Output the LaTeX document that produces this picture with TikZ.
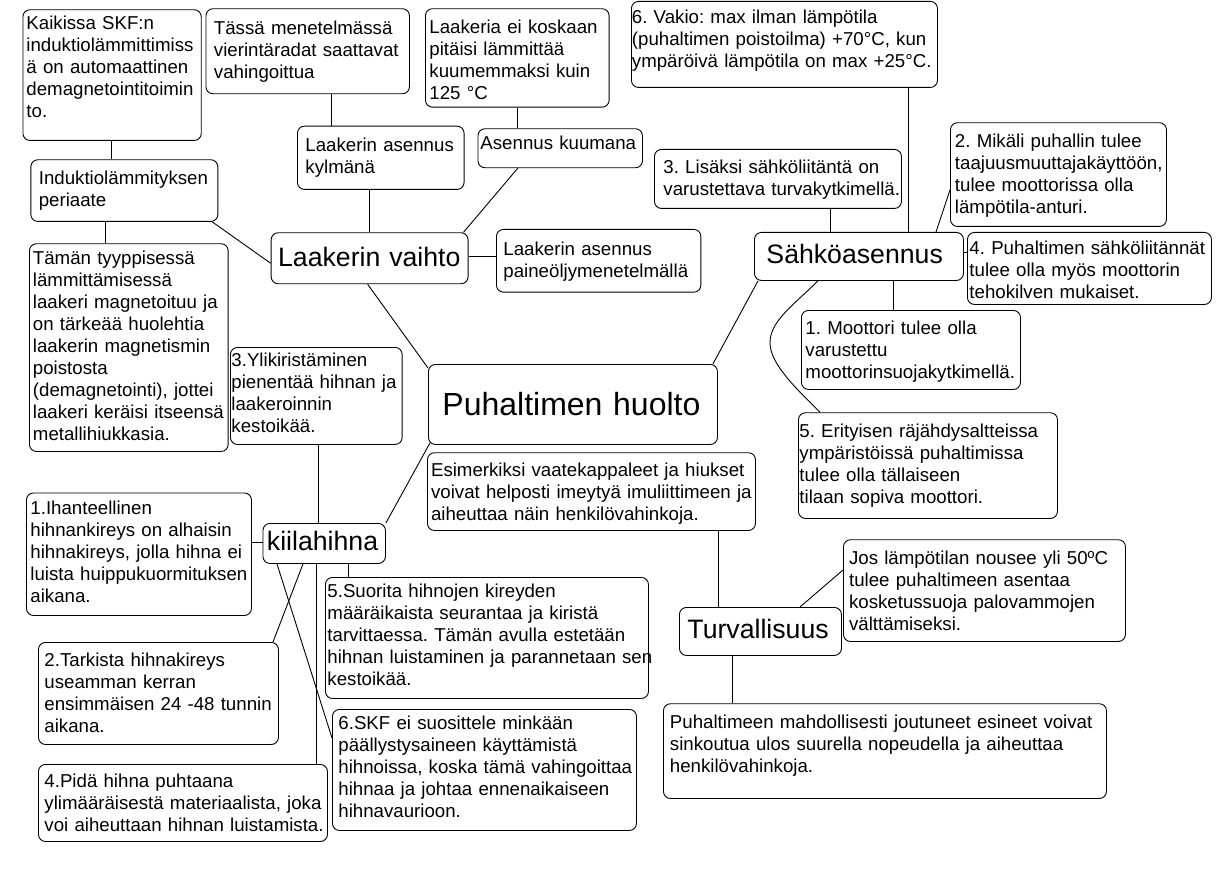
\documentclass[tikz,border=0pt]{standalone}
\usepackage{fontspec}
\setmainfont{Liberation Sans}
\newcommand\bodyfont{\fontsize{18.67}{22}\selectfont}
\newcommand\headfont{\fontsize{26.67}{30}\selectfont}
\newcommand\titlefont{\fontsize{32}{36}\selectfont}
\tikzset{
  mapbox/.style={draw, line width=0.9pt, rounded corners=7pt, inner sep=0pt,
    align=left, anchor=north west, font=\bodyfont, fill=white},
  headbox/.style={font=\headfont},
  titlebox/.style={font=\titlefont},
  link/.style={line width=0.9pt},
}
% \bx[style]{name}{x1}{y1}{x2}{y2}{left pad}{first baseline}{text}
\newcommand\bx[9][]{%
  \pgfmathsetmacro\bxw{#5-#3}%
  \pgfmathsetmacro\bxd{#6-#4-#8}%
  \node[mapbox,#1,text width=\bxw pt,text height=#8pt,text depth=\bxd pt] (#2) at (#3,#4)
    {\frenchspacing\leftskip=#7pt\rightskip=0pt plus 1fil minus 80pt\relax #9\par};}
\begin{document}
\begin{tikzpicture}[x=1pt,y=-1pt]
\fill[white] (0,0) rectangle (1217,877);
\useasboundingbox (0,0) rectangle (1217,877);

% Laakerin vaihto branch
\bx{A}{22.5}{9.3}{200.8}{140}{3.5}{20}{Kaikissa SKF:n\\induktiolämmittimiss\\ä on automaattinen\\demagnetointitoimin\\to.}
\bx{B}{205.5}{8.3}{409}{93.3}{8}{25.7}{Tässä menetelmässä\\vierintäradat saattavat\\vahingoittua}
\bx{C}{425}{8.3}{608.7}{106.7}{4}{25}{Laakeria ei koskaan\\pitäisi lämmittää\\kuumemmaksi kuin\\125 °C}
\bx{D}{297}{125.7}{463.6}{189}{8}{25}{Laakerin asennus\\kylmänä}
\bx{E}{477.5}{128.3}{642}{167.3}{2.5}{21}{Asennus kuumana}
\bx{F}{30.4}{159.3}{217.4}{221}{8}{24.7}{Induktiolämmityksen\\periaate}
\bx[headbox]{G}{270.7}{232.3}{467.6}{283.3}{7}{33.7}{Laakerin vaihto}
\bx{H}{496}{229}{700.4}{291.7}{7}{25.6}{Laakerin asennus\\paineöljymenetelmällä}
\bx{I}{29}{243.3}{227.7}{451}{3.5}{20.7}{Tämän tyyppisessä\\lämmittämisessä\\laakeri magnetoituu ja\\on tärkeää huolehtia\\laakerin magnetismin\\poistosta\\(demagnetointi), jottei\\laakeri keräisi itseensä\\metallihiukkasia.}

% centre
\bx[titlebox]{K}{428}{364}{717}{444}{14}{51.4}{Puhaltimen huolto}
\bx{L}{427}{452.3}{755}{530}{3.6}{23.3}{Esimerkiksi vaatekappaleet ja hiukset\\voivat helposti imeytyä imuliittimeen ja\\aiheuttaa näin henkilövahinkoja.}

% kiilahihna branch
\bx{J}{230}{347}{401.7}{444}{1}{19}{3.Ylikiristäminen\\pienentää hihnan ja\\laakeroinnin\\kestoikää.}
\bx[headbox]{M}{262.5}{523}{385}{563}{4}{27.5}{kiilahihna}
\bx{N}{26}{492.5}{251}{615}{4}{22}{1.Ihanteellinen\\hihnankireys on alhaisin\\hihnakireys, jolla hihna ei\\luista huippukuormituksen\\aikana.}
\bx{O}{38}{642}{278}{744}{6}{24}{2.Tarkista hihnakireys\\useamman kerran\\ensimmäisen 24 -48 tunnin\\aikana.}
\bx{P}{38}{764}{327}{841}{6}{22.6}{4.Pidä hihna puhtaana\\ylimääräisestä materiaalista, joka\\voi aiheuttaan hihnan luistamista.}
\bx{Q}{325}{577}{648}{698}{2}{20.3}{5.Suorita hihnojen kireyden\\määräikaista seurantaa ja kiristä\\tarvittaessa. Tämän avulla estetään\\hihnan luistaminen ja parannetaan sen\\kestoikää.}
\bx{R}{332}{709}{636}{830}{6}{20.3}{6.SKF ei suosittele minkään\\päällystysaineen käyttämistä\\hihnoissa, koska tämä vahingoittaa\\hihnaa ja johtaa ennenaikaiseen\\hihnavaurioon.}

% Sähköasennus branch
\bx{S}{631}{1}{937}{87}{0.5}{21.6}{6. Vakio: max ilman lämpötila\\(puhaltimen poistoilma) +70°C, kun\\ympäröivä lämpötila on max +25°C.}
\bx{T}{654}{149}{901}{208}{9}{24.3}{3. Lisäksi sähköliitäntä on\\varustettava turvakytkimellä.}
\bx{U}{950}{122.3}{1166}{226}{4.5}{24.3}{2. Mikäli puhallin tulee\\taajuusmuuttajakäyttöön,\\tulee moottorissa olla\\lämpötila-anturi.}
\bx[headbox]{V}{754}{232}{963}{280}{12}{30.6}{Sähköasennus}
\bx{W}{967}{232}{1211}{304}{2}{22}{4. Puhaltimen sähköliitännät\\tulee olla myös moottorin\\tehokilven mukaiset.}
\bx{X}{801}{310}{1020}{389}{4}{24}{1. Moottori tulee olla\\varustettu\\moottorinsuojakytkimellä.}
\bx{Y}{798}{412.3}{1057}{518}{1}{24.3}{5. Erityisen räjähdysaltteissa\\ympäristöissä puhaltimissa\\tulee olla tällaiseen\\tilaan sopiva moottori.}

% Turvallisuus branch
\bx[headbox]{Z}{679}{607}{841}{655}{8}{30.6}{Turvallisuus}
\bx{AA}{843}{539.3}{1125}{641}{5.6}{24.7}{Jos lämpötilan nousee yli 50ºC\\tulee puhaltimeen asentaa\\kosketussuoja palovammojen\\välttämiseksi.}
\bx{AB}{663}{703.3}{1106}{798}{6.5}{25}{Puhaltimeen mahdollisesti joutuneet esineet voivat\\sinkoutua ulos suurella nopeudella ja aiheuttaa\\henkilövahinkoja.}

% connectors
\draw[link] (A.south -| 111.5,0) -- (F.north -| 111.5,0);
\draw[link] (F.south -| 105.5,0) -- (I.north -| 105.5,0);
\draw[link] ([xshift=-6pt]F.south east) -- (G.west |- 0,263.3);
\draw[link] (B.south -| 331,0) -- (D.north -| 331,0);
\draw[link] (D.south -| 369.6,0) -- (G.north -| 369.6,0);
\draw[link] (C.south -| 517.8,0) -- (E.north -| 517.8,0);
\draw[link] (E.south -| 517.8,0) -- ([xshift=-5pt]G.north east);
\draw[link] (G.east |- 0,256.7) -- (H.west |- 0,256.7);
\draw[link] (G.south -| 367.6,0) -- ([yshift=-4pt]K.north west);
\draw[link] ([shift={(2pt,2pt)}]K.south west) -- (M.north east);
\draw[link] (J.south -| 318,0) -- (M.north -| 318,0);
\draw[link] (N.east |- 0,542) -- (M.west |- 0,542);
\draw[link] (M.south -| 277,0) -- (R.west |- 0,738);
\draw[link] (M.south -| 303,0) -- (O.north -| 273,0);
\draw[link] (M.south -| 316,0) -- (P.north -| 316,0);
\draw[link] (M.south -| 348,0) -- (Q.north -| 348,0);
\draw[link] ([xshift=-5pt]K.north east) -- ([xshift=4pt]V.south west);
\draw[link] (S.south -| 908,0) -- (V.north -| 908,0);
\draw[link] (T.south -| 830,0) -- (V.north -| 830,0);
\draw[link] (U.west |- 0,190) -- (V.north -| 936,0);
\draw[link] (V.east |- 0,252) -- (W.west |- 0,252);
\draw[link] (V.south -| 893.5,0) -- (X.north -| 893.5,0);
\draw[link] (V.south -| 818,0) .. controls (790,308) and (770,322) .. (770,343)
  .. controls (770,365) and (800,392) .. (Y.north -| 820,0);
\draw[link] (L.south -| 718,0) -- (Z.north -| 718,0);
\draw[link] (Z.south -| 732,0) -- (AB.north -| 732,0);
\draw[link] (Z.north -| 800,0) -- (AA.west |- 0,570);
\end{tikzpicture}
\end{document}
